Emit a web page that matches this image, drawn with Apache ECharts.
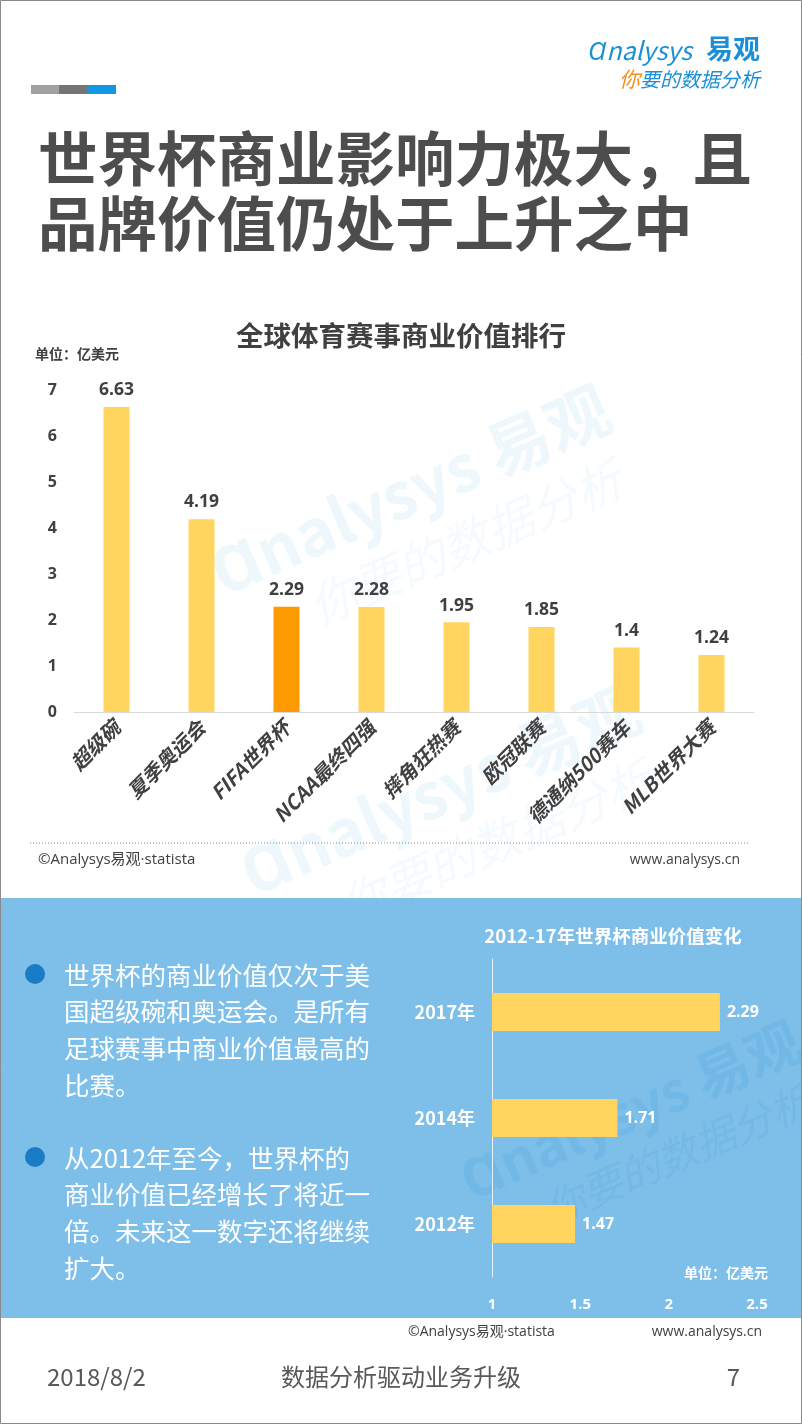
<!DOCTYPE html>
<html>
<head>
<meta charset="utf-8">
<script src="https://cdn.jsdelivr.net/npm/echarts@6/dist/echarts.min.js"></script>
<style>
html,body{margin:0;padding:0;background:#fff;}
#main{width:802px;height:1424px;}
</style>
</head>
<body>
<div id="main"></div>
<script>
// ---- data ----
const categories = ['超级碗','夏季奥运会','FIFA世界杯','NCAA最终四强','摔角狂热赛','欧冠联赛','德通纳500赛车','MLB世界大赛'];
const values = [6.63, 4.19, 2.29, 2.28, 1.95, 1.85, 1.4, 1.24];
const highlightIndex = 2;
const yearCategories = ['2012年','2014年','2017年'];
const yearValues = [1.47, 1.71, 2.29];

const titleLines = ['世界杯商业影响力极大，且','品牌价值仍处于上升之中'];
const para1 = ['世界杯的商业价值仅次于美','国超级碗和奥运会。是所有','足球赛事中商业价值最高的','比赛。'];
const para2 = ['从2012年至今，世界杯的','商业价值已经增长了将近一','倍。未来这一数字还将继续','扩大。'];

const FONT = '"Noto Sans CJK SC","Noto Sans",sans-serif';
const LATIN = '"Open Sans","Noto Sans CJK SC",sans-serif';
const YELLOW = '#FFD55F';
const ORANGE = '#FF9900';
const DARK = '#404040';

const chart = echarts.init(document.getElementById('main'), null, {renderer:'canvas'});

function txt(x, y, text, font, fill, align) {
  return {
    type:'text', x:x, y:y,
    style:{text:text, font:font, fill:fill, textAlign:align||'left', textVerticalAlign:'middle'}
  };
}

const graphics = [];
// blue panel
graphics.push({type:'rect', shape:{x:0,y:898,width:802,height:420}, style:{fill:'#7DBFE9'}, z:-10});
// watermark
function watermark(cx, cy, scale, color, color2) {
  return {
    type:'group', x:cx, y:cy, rotation:Math.PI*0.13, scaleX:scale, scaleY:scale, z:-5, silent:true,
    children:[
      {type:'text', x:0, y:0, style:{text:'Ɑnalysys 易观', font:'bold 64px '+FONT, fill:color, textAlign:'center', textVerticalAlign:'middle'}},
      {type:'text', x:30, y:70, style:{text:'你要的数据分析', font:'italic 48px '+FONT, fill:color2, textAlign:'center', textVerticalAlign:'middle'}}
    ]
  };
}
graphics.push(watermark(410, 490, 1, 'rgba(120,190,235,0.13)', 'rgba(120,190,235,0.08)'));
graphics.push(watermark(440, 790, 1, 'rgba(120,190,235,0.13)', 'rgba(120,190,235,0.08)'));
graphics.push(watermark(630, 1110, 0.85, 'rgba(60,150,215,0.16)', 'rgba(60,150,215,0.12)'));

// top color bars
graphics.push({type:'rect', shape:{x:31,y:85,width:28,height:9}, style:{fill:'#A0A0A0'}});
graphics.push({type:'rect', shape:{x:59,y:85,width:28,height:9}, style:{fill:'#747474'}});
graphics.push({type:'rect', shape:{x:87,y:85,width:29,height:9}, style:{fill:'#1596E0'}});
// logo
graphics.push(txt(588, 50, 'Ɑnalysys', 'italic 25px '+FONT, '#1A8FD8', 'left'));
graphics.push(txt(760, 49, '易观', 'bold 27px '+FONT, '#1A8FD8', 'right'));
graphics.push({
  type:'text', x:760, y:79,
  style:{
    text:'{a|你}{b|要的数据分析}', textAlign:'right', textVerticalAlign:'middle',
    rich:{
      a:{font:'italic 21px '+FONT, fill:'#F0901E', color:'#F0901E'},
      b:{font:'italic 20px '+FONT, fill:'#1A8FD8', color:'#1A8FD8'}
    }
  }
});
// main title
graphics.push(txt(38, 158, titleLines[0], 'bold 59.5px '+FONT, '#4D4D4D'));
graphics.push(txt(38, 223, titleLines[1], 'bold 59.5px '+FONT, '#4D4D4D'));
// chart 1 title and unit
graphics.push(txt(401, 336, '全球体育赛事商业价值排行', 'bold 27.5px '+FONT, '#404040', 'center'));
graphics.push(txt(35, 354, '单位：亿美元', 'bold 14px '+FONT, '#404040'));
// dotted separator
graphics.push({type:'line', shape:{x1:30,y1:843,x2:748,y2:843}, style:{stroke:'#8C8C8C', lineWidth:1, lineDash:[1,2]}});
graphics.push(txt(38, 860, '©Analysys易观·statista', '15px '+LATIN, '#404040'));
graphics.push(txt(740, 860, 'www.analysys.cn', '14px '+LATIN, '#404040', 'right'));
// bullets + paragraphs
graphics.push({type:'circle', shape:{cx:35, cy:974, r:10}, style:{fill:'#1A7CC4'}});
graphics.push({type:'circle', shape:{cx:35, cy:1157, r:10}, style:{fill:'#1A7CC4'}});
para1.forEach(function(s,i){ graphics.push(txt(64, 975 + i*36.7, s, '25.5px '+FONT, '#FFFFFF')); });
para2.forEach(function(s,i){ graphics.push(txt(64, 1158 + i*36.7, s, '25.5px '+FONT, '#FFFFFF')); });
// right chart title + unit
graphics.push(txt(613, 936, '2012-17年世界杯商业价值变化', 'bold 18.5px '+FONT, '#FFFFFF', 'center'));
graphics.push(txt(768, 1273, '单位：亿美元', 'bold 14px '+FONT, '#FFFFFF', 'right'));
// under panel source
graphics.push(txt(408, 1332, '©Analysys易观·statista', '14px '+LATIN, '#404040'));
graphics.push(txt(762, 1332, 'www.analysys.cn', '14px '+LATIN, '#404040', 'right'));
// footer
graphics.push(txt(47, 1377, '2018/8/2', '24px '+FONT, '#595959'));
graphics.push(txt(401, 1377, '数据分析驱动业务升级', '24px '+FONT, '#595959', 'center'));
graphics.push(txt(740, 1377, '7', '24px '+FONT, '#595959', 'right'));
// page border
graphics.push({type:'rect', shape:{x:0.5,y:0.5,width:801,height:1423}, style:{fill:'none', stroke:'#8A8A8A', lineWidth:1}, z:100});

const option = {
  animation:false,
  backgroundColor:'#ffffff',
  textStyle:{fontFamily:FONT},
  graphic:graphics,
  grid:[
    {left:74, right:48, top:390, bottom:712, containLabel:false},
    {left:492, right:45, top:959, bottom:147, containLabel:false}
  ],
  xAxis:[
    {
      type:'category', gridIndex:0, data:categories,
      axisLine:{lineStyle:{color:'#D9D9D9', width:1}},
      axisTick:{show:false},
      axisLabel:{rotate:45, margin:12, fontSize:20, fontWeight:'bold', fontStyle:'italic', color:DARK, fontFamily:FONT, interval:0}
    },
    {
      type:'value', gridIndex:1, min:1, max:2.5, interval:0.5,
      axisLine:{show:false}, axisTick:{show:false}, splitLine:{show:false},
      axisLabel:{margin:20, fontSize:15, fontWeight:'bold', color:'#FFFFFF', fontFamily:LATIN}
    }
  ],
  yAxis:[
    {
      type:'value', gridIndex:0, min:0, max:7, interval:1,
      axisLine:{show:false}, axisTick:{show:false}, splitLine:{show:false},
      axisLabel:{margin:17, fontSize:16, fontWeight:'bold', color:DARK, fontFamily:LATIN}
    },
    {
      type:'category', gridIndex:1, data:yearCategories,
      axisLine:{show:true, lineStyle:{color:'#E6F3FC', width:1}},
      axisTick:{show:false},
      axisLabel:{margin:17, fontSize:18, fontWeight:'bold', color:'#FFFFFF', fontFamily:FONT}
    }
  ],
  series:[
    {
      type:'bar', xAxisIndex:0, yAxisIndex:0, barWidth:26,
      data:values.map(function(v,i){ return {value:v, itemStyle:{color: i===highlightIndex ? ORANGE : YELLOW}}; }),
      label:{show:true, position:'top', distance:8, fontSize:17.5, fontWeight:'bold', color:DARK, fontFamily:LATIN}
    },
    {
      type:'bar', xAxisIndex:1, yAxisIndex:1, barWidth:38,
      data:yearValues,
      itemStyle:{color:YELLOW},
      label:{show:true, position:'right', distance:7, fontSize:16, fontWeight:'bold', color:'#FFFFFF', fontFamily:LATIN}
    }
  ]
};
chart.setOption(option);
</script>
</body>
</html>
